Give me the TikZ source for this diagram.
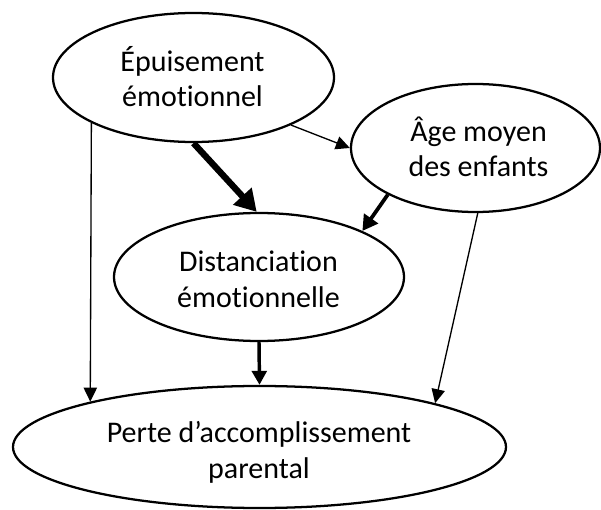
\documentclass[tikz,border=0pt]{standalone}
\usepackage{fontspec}
\setmainfont{Carlito}[Ligatures={NoCommon}]
\usetikzlibrary{shapes.geometric,arrows.meta}
\begin{document}
\begin{tikzpicture}[x=0.75pt,y=-0.75pt,
  oval/.style={draw,ellipse,line width=1.7pt,inner sep=0pt},
  lbl/.style={anchor=base,inner sep=0pt,font=\fontsize{22.5pt}{27pt}\selectfont},
  thinarrow/.style={line width=1pt,-{Triangle[length=10.5pt,width=10pt]}},
  thickarrow/.style={line width=4.8pt,-{Triangle[length=16pt,width=18pt]}},
  midarrow/.style={line width=2.8pt,-{Triangle[length=11.5pt,width=12.5pt]}},
  vertarrow/.style={line width=2.6pt,-{Triangle[length=10.5pt,width=11pt]}}
]
\useasboundingbox (0,0) rectangle (601,510);
% ellipses
\node[oval,minimum width=210.75pt,minimum height=96.75pt] (e1) at (193.5,77.5) {};
\node[oval,minimum width=186.75pt,minimum height=96pt] (e2) at (475.5,148) {};
\node[oval,minimum width=217.5pt,minimum height=96pt] (e3) at (259,277) {};
\node[oval,minimum width=369.75pt,minimum height=91.5pt] (e4) at (259.5,447) {};
% texts
\node[lbl] (t1a) at (192.5,72) {Épuisement};
\node[lbl] (t1b) at (192.5,107) {émotionnel};
\node[lbl] (t2a) at (478.5,142) {Âge moyen};
\node[lbl] (t2b) at (478.5,177) {des enfants};
\node[lbl] (t3a) at (258.5,272) {Distanciation};
\node[lbl] (t3b) at (258.5,307) {émotionnelle};
\node[lbl] (t4a) at (259,442) {Perte d’accomplissement};
\node[lbl] (t4b) at (259,478) {parental};
% connectors
\draw[thinarrow] (e1.204.4) -- (e4.165.7);
\draw[thinarrow] (e1.334.5) -- (e2.180.5);
\draw[thickarrow] (e1.270) -- (e3.92);
\draw[midarrow] (e2.208.5) -- (e3.24.5);
\draw[vertarrow] (e3.270) -- (e4.90);
\draw[thinarrow] (e2.272) -- (e4.14.2);
\end{tikzpicture}
\end{document}
